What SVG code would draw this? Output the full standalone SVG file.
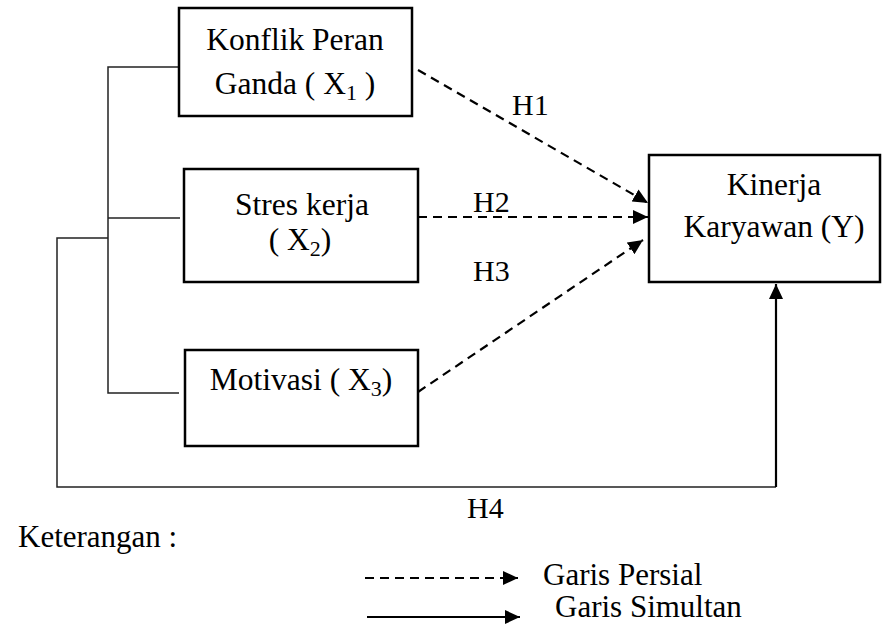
<svg xmlns="http://www.w3.org/2000/svg" width="888" height="627" viewBox="0 0 888 627">
<style>
text{font-family:"Liberation Serif","Times New Roman",serif;font-size:30px;fill:#000}
.lbl{font-size:31.5px}
.leg{font-size:31px}
.box{fill:#fff;stroke:#000;stroke-width:2.5}
.thin{fill:none;stroke:#222;stroke-width:1.5}
.dash{fill:none;stroke:#000;stroke-width:2.2;stroke-dasharray:9,6}
.solid{fill:none;stroke:#000;stroke-width:2.2}
.mid{text-anchor:middle}
</style>
<defs>
<marker id="ah" markerUnits="userSpaceOnUse" markerWidth="16" markerHeight="14" refX="15" refY="7" orient="auto">
<path d="M0,0 L15,7 L0,14 Z" fill="#000"/>
</marker>
</defs>
<g id="connectors">
<polyline class="thin" points="179,67 108,67 108,393 179,393"/>
<line class="thin" x1="108" y1="218" x2="180" y2="218"/>
<polyline class="thin" points="108,238 57,238 57,487 776,487"/>
<line class="solid" x1="776" y1="487" x2="776" y2="284" marker-end="url(#ah)"/>
<line class="dash" x1="418" y1="70" x2="648" y2="203" marker-end="url(#ah)"/>
<line class="dash" x1="418" y1="217" x2="648" y2="217" marker-end="url(#ah)"/>
<line class="dash" x1="418" y1="392" x2="643" y2="240" marker-end="url(#ah)"/>
<text x="512" y="115">H1</text>
<text x="473" y="212">H2</text>
<text x="473" y="281">H3</text>
<text x="467" y="518">H4</text>
</g>
<g id="x1">
<rect class="box" x="179" y="8" width="233" height="108"/>
<text class="mid lbl" x="295" y="50">Konflik Peran</text>
<text class="mid lbl" x="295" y="94">Ganda ( X<tspan font-size="22" dy="6">1</tspan><tspan dy="-6"> )</tspan></text>
</g>
<g id="x2">
<rect class="box" x="184" y="169" width="234" height="113"/>
<text class="mid lbl" x="302" y="215">Stres kerja</text>
<text class="mid lbl" x="300" y="250">( X<tspan font-size="22" dy="6">2</tspan><tspan dy="-6">)</tspan></text>
</g>
<g id="x3">
<rect class="box" x="185" y="350" width="233" height="96"/>
<text class="mid lbl" x="301" y="390">Motivasi ( X<tspan font-size="22" dy="6">3</tspan><tspan dy="-6">)</tspan></text>
</g>
<g id="y">
<rect class="box" x="649" y="155" width="231" height="127"/>
<text class="mid lbl" x="774" y="195">Kinerja</text>
<text class="mid lbl" x="774" y="237">Karyawan (Y)</text>
</g>
<g id="legend">
<text class="leg" x="18" y="547">Keterangan :</text>
<line class="dash" x1="365" y1="578" x2="518" y2="578" marker-end="url(#ah)"/>
<line class="solid" x1="367" y1="617" x2="520" y2="617" marker-end="url(#ah)"/>
<text class="leg" x="543" y="585">Garis Persial</text>
<text class="leg" x="555" y="617">Garis Simultan</text>
</g>
</svg>
